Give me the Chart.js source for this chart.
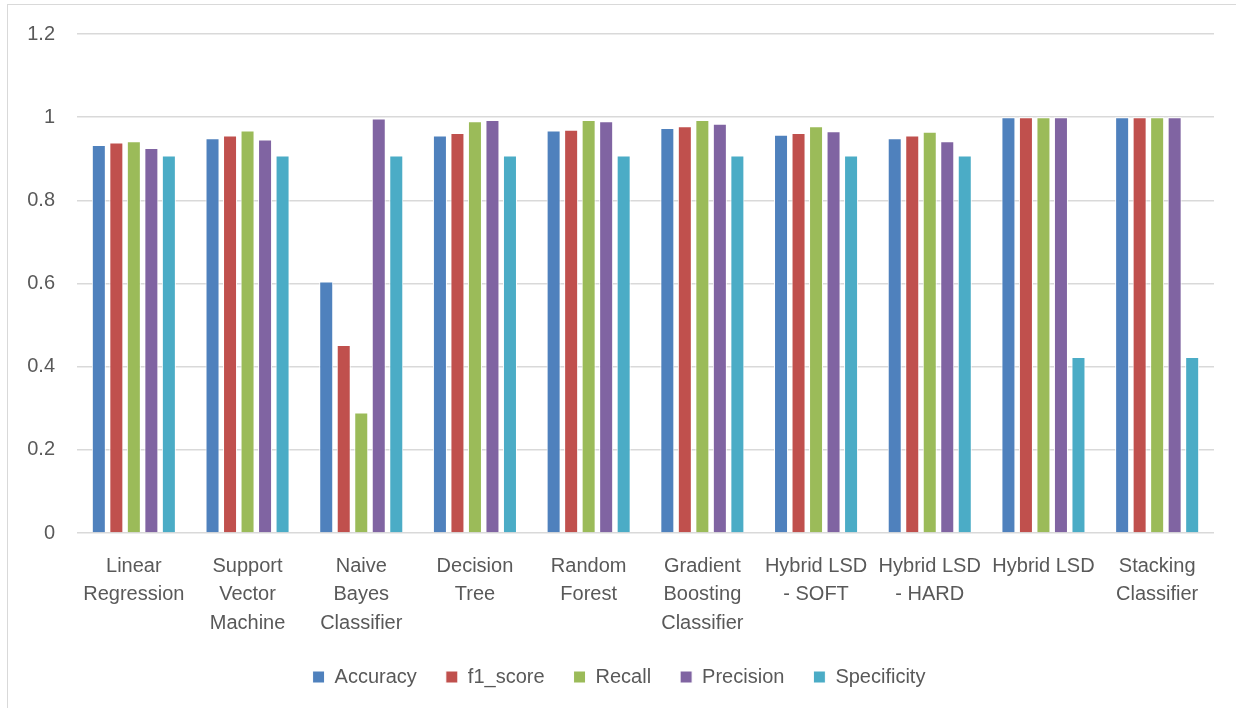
<!DOCTYPE html>
<html lang="en">
<head>
    <meta charset="UTF-8">
    <title>Classifier Metrics</title>
    <script src="https://cdn.jsdelivr.net/npm/chart.js"></script>
    <style>
        body { margin: 0; background: #fff; overflow: hidden; }
        #frame {
            position: absolute;
            left: 7px;
            top: 4px;
            width: 1240px;
            height: 720px;
            border: 1px solid #d9d9d9;
        }
        #wrap {
            position: absolute;
            left: 0;
            top: 0;
            width: 1236px;
            height: 708px;
        }
    </style>
</head>
<body>
    <div id="frame"></div>
    <div id="wrap"><canvas id="chart"></canvas></div>

    <script>
        const models = [
            ['Linear', 'Regression'],
            ['Support', 'Vector', 'Machine'],
            ['Naive', 'Bayes', 'Classifier'],
            ['Decision', 'Tree'],
            ['Random', 'Forest'],
            ['Gradient', 'Boosting', 'Classifier'],
            ['Hybrid LSD', '- SOFT'],
            ['Hybrid LSD', '- HARD'],
            ['Hybrid LSD'],
            ['Stacking', 'Classifier']
        ];
        const accuracy    = [0.933, 0.949, 0.605, 0.956, 0.968, 0.974, 0.958, 0.949, 1.0, 1.0];
        const f1Score     = [0.939, 0.956, 0.452, 0.962, 0.970, 0.978, 0.962, 0.956, 1.0, 1.0];
        const recall      = [0.942, 0.968, 0.290, 0.990, 0.993, 0.993, 0.978, 0.965, 1.0, 1.0];
        const precision   = [0.926, 0.946, 0.997, 0.993, 0.990, 0.984, 0.966, 0.942, 1.0, 1.0];
        const specificity = [0.908, 0.908, 0.908, 0.908, 0.908, 0.908, 0.908, 0.908, 0.423, 0.423];

        const seriesNames = ['Accuracy', 'f1_score', 'Recall', 'Precision', 'Specificity'];
        const seriesData = [accuracy, f1Score, recall, precision, specificity];
        const colors = ['#4f81bd', '#c0504d', '#9bbb59', '#8064a2', '#4bacc6'];

        const textColor = '#595959';
        const font = { family: "'Liberation Sans', Arial, sans-serif", size: 20 };

        // nudge the legend a bit right so it sits centred like the original
        const legendShift = {
            id: 'legendShift',
            afterLayout(chart) {
                chart.legend.left += 12;
                chart.legend.right += 12;
            }
        };

        new Chart(document.getElementById('chart'), {
            type: 'bar',
            data: {
                labels: models,
                datasets: seriesNames.map((name, i) => ({
                    label: name,
                    data: seriesData[i],
                    backgroundColor: colors[i],
                    borderColor: '#ffffff',
                    borderWidth: 1,
                    borderSkipped: 'bottom',
                    categoryPercentage: 0.77,
                    barPercentage: 0.8
                }))
            },
            options: {
                responsive: true,
                maintainAspectRatio: false,
                animation: false,
                layout: { padding: { top: 27, right: 22, left: 0, bottom: 11 } },
                scales: {
                    x: {
                        grid: { display: false },
                        border: { display: false },
                        ticks: {
                            color: textColor,
                            font: { ...font, lineHeight: 1.43 },
                            maxRotation: 0,
                            autoSkip: false,
                            padding: 11
                        },
                        afterFit: (scale) => { scale.height = 105; }
                    },
                    y: {
                        min: 0,
                        max: 1.2,
                        grid: { color: '#d9d9d9', lineWidth: 1.5, drawTicks: false },
                        border: { display: false },
                        ticks: {
                            stepSize: 0.2,
                            color: textColor,
                            font: font,
                            padding: 22,
                            callback: (v) => String(Math.round(v * 10) / 10)
                        },
                        afterFit: (scale) => { scale.width = 77; }
                    }
                },
                plugins: {
                    legend: {
                        position: 'bottom',
                        labels: {
                            color: textColor,
                            font: font,
                            boxWidth: 12,
                            boxHeight: 12,
                            padding: 29,
                            useBorderRadius: false
                        }
                    },
                    tooltip: { enabled: false }
                }
            },
            plugins: [legendShift]
        });
    </script>
</body>
</html>
